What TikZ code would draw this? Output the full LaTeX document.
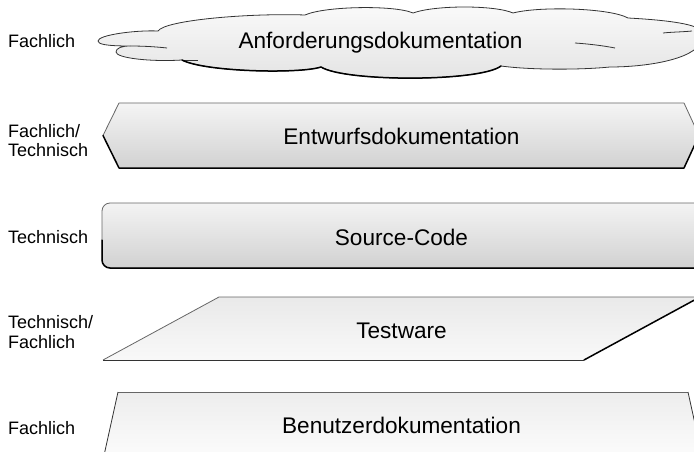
\documentclass[tikz,border=0pt]{standalone}
\usepackage{fontspec}
\setmainfont{Liberation Sans}
\begin{document}
\begin{tikzpicture}[x=1pt,y=-1pt,
  mainlabel/.style={font=\fontsize{22.6}{27}\selectfont, anchor=base, inner sep=0pt},
  sidelabel/.style={font=\fontsize{18}{20}\selectfont, anchor=base west, inner sep=0pt},
  outline/.style={draw=black!80, line width=0.8pt, line join=round},
  heavy/.style={draw=black, line width=1.5pt, line join=round, line cap=round},
  light/.style={draw=gray!80!black, line width=0.8pt, line join=round}
]
\useasboundingbox (0,0) rectangle (694,452);
\clip (0,0) rectangle (694,452);

% ---------- cloud ----------
\path[top color=gray!4, bottom color=gray!22, outline]
  (98,41) .. controls (98,35) and (135,30) .. (158,31)
  .. controls (165,20) and (250,13) .. (305,15)
  .. controls (325,6) and (395,5) .. (413,13)
  .. controls (435,5) and (495,5) .. (513,13)
  .. controls (540,6) and (610,8) .. (628,18)
  .. controls (665,20) and (702,24) .. (702,33)
  -- (702,37)
  .. controls (702,58) and (650,67) .. (610,67)
  .. controls (580,70) and (530,70) .. (501,66)
  .. controls (480,82) and (345,82) .. (321,67)
  .. controls (300,74) and (205,72) .. (182,60)
  .. controls (150,62) and (116,58) .. (116,52)
  .. controls (116,48) and (122,46) .. (130,46)
  .. controls (105,46) and (98,44) .. (98,41) -- cycle;
\draw[outline] (130,46) .. controls (145,46) and (158,47) .. (167,48);
\draw[outline] (182,60) -- (198,60);
\draw[outline] (575,43) .. controls (590,44) and (605,46) .. (615,48);
\draw[outline] (663,33) .. controls (672,32) and (682,32) .. (692,31);
\draw[heavy] (182,60) .. controls (205,72) and (300,74) .. (321,67)
  .. controls (345,82) and (480,82) .. (501,66);
\node[mainlabel] (anf) at (380.5,48.5) {Anforderungsdokumentation};
\node[sidelabel] (l1) at (8,48) {Fachlich};

% ---------- hexagon ----------
\path[top color=gray!8, bottom color=gray!36]
  (103,135.5) -- (119,103) -- (684,103) -- (699,135.5) -- (684,168) -- (119,168) -- cycle;
\draw[light] (103,135.5) -- (119,103) -- (684,103) -- (699,135.5);
\draw[heavy] (103,135.5) -- (119,168) -- (684,168) -- (699,135.5);
\node[mainlabel] (entw) at (401.5,144.3) {Entwurfsdokumentation};
\node[sidelabel] (l2a) at (8,137.5) {Fachlich/};
\node[sidelabel] (l2b) at (8,157) {Technisch};

% ---------- rounded rectangle ----------
\path[top color=gray!9, bottom color=gray!36, rounded corners=8pt]
  (102,203) rectangle (720,268);
\draw[light, rounded corners=8pt] (720,203) -- (102,203) -- (102,268) -- (720,268);
\draw[heavy, rounded corners=8pt] (102,240) -- (102,268) -- (720,268);
\node[mainlabel] (src) at (401.5,245) {Source-Code};
\node[sidelabel] (l3) at (8,243.5) {Technisch};

% ---------- parallelogram ----------
\path[top color=gray!17, bottom color=gray!5]
  (103,360) -- (219,297) -- (700,297) -- (584,360) -- cycle;
\draw[light] (103,360) -- (219,297) -- (700,297);
\draw[heavy] (700,297) -- (584,360);
\draw[outline] (103,360) -- (584,360);
\node[mainlabel] (test) at (401.5,338.3) {Testware};
\node[sidelabel] (l4a) at (8,328.5) {Technisch/};
\node[sidelabel] (l4b) at (8,348.5) {Fachlich};

% ---------- trapezoid ----------
\path[top color=gray!14, bottom color=gray!2]
  (118,392) -- (688,392) -- (703,460) -- (103,460) -- cycle;
\draw[light] (118,392) -- (688,392);
\draw[outline] (103,460) -- (118,392);
\draw[outline] (688,392) -- (703,460);
\node[mainlabel] (benu) at (401.5,433) {Benutzerdokumentation};
\node[sidelabel] (l5) at (8,434.5) {Fachlich};
\end{tikzpicture}
\end{document}
